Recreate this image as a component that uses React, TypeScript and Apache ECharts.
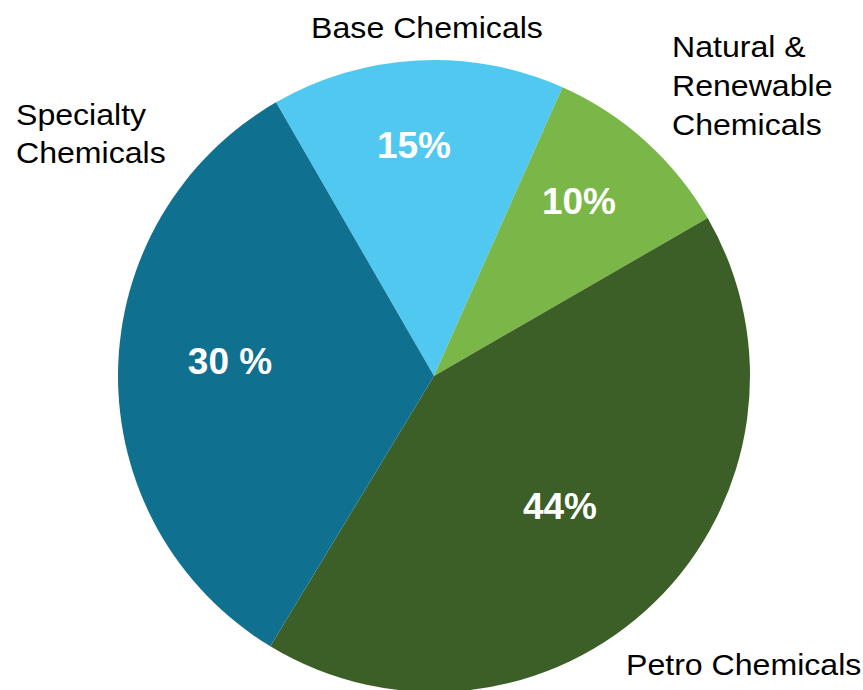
import React, { useEffect, useRef } from "react";
import * as echarts from "echarts";

const categories = ["Base Chemicals", "Natural & Renewable Chemicals", "Petro Chemicals", "Specialty Chemicals"];
const values = [15, 10, 42, 33];
// percentage labels as printed on the slices
const sliceLabels = ["15%", "10%", "44%", "30 %"];
const colors = ["#51C8F0", "#7AB648", "#3C5E27", "#10708F"];

const innerLabelPos: [number, number][] = [
  [414, 145],
  [579, 201],
  [560, 506],
  [230, 361],
];

export default function App() {
  const ref = useRef<HTMLDivElement>(null);
  useEffect(() => {
    if (!ref.current) return;
    const chart = echarts.init(ref.current, null, { renderer: "svg" });
    const font = "Arial, 'Liberation Sans', sans-serif";
    const outerStyle = { fill: "#000", fontSize: 30, fontFamily: font, lineHeight: 38 };
    const sx = 1.07;
    chart.setOption({
      animation: false,
      backgroundColor: "#fff",
      series: [
        {
          type: "pie",
          center: [434, 376],
          radius: 316,
          startAngle: 120,
          clockwise: true,
          silent: true,
          data: categories.map((name, i) => ({
            name,
            value: values[i],
            itemStyle: { color: colors[i] },
          })),
          label: {
            show: true,
            position: "inside",
            formatter: (p: any) => sliceLabels[p.dataIndex],
            color: "#fff",
            fontWeight: "bold",
            fontSize: 37,
            fontFamily: font,
          },
          labelLine: { show: false },
          labelLayout: (p: any) => ({
            x: innerLabelPos[p.dataIndex][0],
            y: innerLabelPos[p.dataIndex][1],
            align: "center",
            verticalAlign: "middle",
          }),
        },
      ],
      graphic: [
        { type: "text", x: 427, y: 28, scaleX: sx, style: { ...outerStyle, text: "Base Chemicals", align: "center", verticalAlign: "middle" } },
        { type: "text", x: 672, y: 27, scaleX: sx, style: { ...outerStyle, text: "Natural &\nRenewable\nChemicals", align: "left", verticalAlign: "top", lineHeight: 39 } },
        { type: "text", x: 16, y: 96, scaleX: sx, style: { ...outerStyle, text: "Specialty\nChemicals", align: "left", verticalAlign: "top" } },
        { type: "text", x: 626, y: 665, scaleX: sx, style: { ...outerStyle, text: "Petro Chemicals", align: "left", verticalAlign: "middle" } },
      ],
    });
    return () => chart.dispose();
  }, []);
  return <div ref={ref} style={{ position: "fixed", left: 0, top: 0, width: 863, height: 690 }} />;
}
